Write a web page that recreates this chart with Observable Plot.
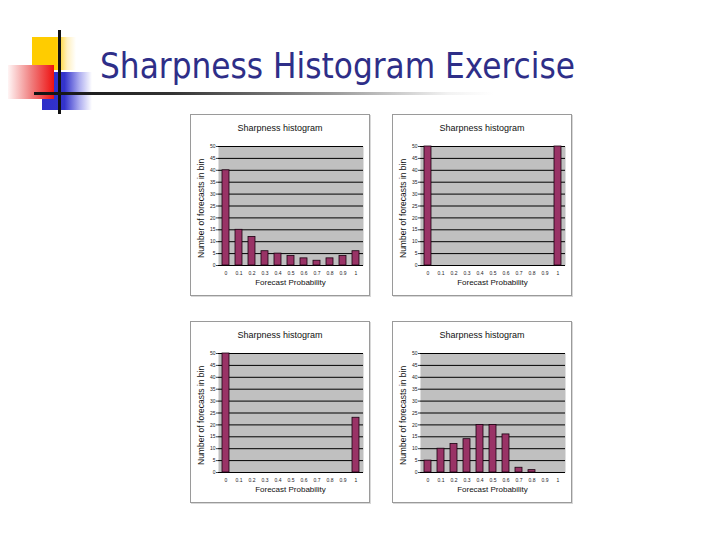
<!DOCTYPE html>
<html><head><meta charset="utf-8">
<script src="https://cdn.jsdelivr.net/npm/d3@7"></script>
<script src="https://cdn.jsdelivr.net/npm/@observablehq/plot@0.6"></script>
<style>
html,body{margin:0;padding:0;background:#fff;}
#page{position:relative;width:720px;height:540px;overflow:hidden;font-family:"Liberation Sans",Arial,sans-serif;}
.abs{position:absolute;}
.box{position:absolute;width:178px;height:180px;border:1px solid #9a9a9a;box-shadow:1px 1px 0 #d8d8d8;background:#fff;}
.ptitle{position:absolute;top:8px;left:0;width:178px;text-align:center;font-size:9px;color:#111;}
.xlab{position:absolute;font-size:8px;color:#111;text-align:center;width:150px;}
.ylab{position:absolute;font-size:8.5px;color:#111;white-space:nowrap;transform:rotate(-90deg);transform-origin:left top;}
.box svg{position:absolute;left:0;top:0;}
</style></head>
<body><div id="page"></div>
<script>
const probs = ["0","0.1","0.2","0.3","0.4","0.5","0.6","0.7","0.8","0.9","1"];
const yTicks = [0,5,10,15,20,25,30,35,40,45,50];
const counts1 = [40,15,12,6,5,4,3,2,3,4,6];
const counts2 = [50,0,0,0,0,0,0,0,0,0,50];
const counts3 = [50,0,0,0,0,0,0,0,0,0,23];
const counts4 = [5,10,12,14,20,20,16,2,1,0,0];
const chartTitle = "Sharpness histogram";
const xTitle = "Forecast Probability";
const yTitle = "Number of forecasts in bin";
const slideTitle = "Sharpness Histogram Exercise";

const page = document.getElementById("page");

// decorative slide header
page.insertAdjacentHTML("beforeend", `
<div class="abs" style="left:32px;top:37px;width:44px;height:33px;background:linear-gradient(to right,#ffcc00 0%,#ffcc00 55%,rgba(255,230,150,0.6) 80%,rgba(255,255,255,0) 100%)"></div>
<div class="abs" style="left:42px;top:72px;width:50px;height:38px;background:linear-gradient(to right,#2d2dc8 0%,#3434cc 45%,rgba(120,120,230,0.6) 75%,rgba(255,255,255,0) 100%)"></div>
<div class="abs" style="left:8px;top:65px;width:46px;height:34px;background:linear-gradient(to right,rgba(255,230,230,0.4) 0%,#f08080 50%,#ee1111 100%)"></div>
<div class="abs" style="left:58px;top:30px;width:3px;height:84px;background:#111"></div>
<div class="abs" style="left:34px;top:92px;width:460px;height:3px;background:linear-gradient(to right,#111 0%,#333 30%,#999 65%,rgba(230,230,230,0.5) 90%,rgba(255,255,255,0) 100%)"></div>
<svg class="abs" style="left:0;top:40px" width="720" height="50"><text x="100" y="38" font-family="DejaVu Sans Condensed, DejaVu Sans, sans-serif" font-size="35" fill="#2e2e88" textLength="475" lengthAdjust="spacingAndGlyphs">${slideTitle}</text></svg>
`);

const panels = [
  {left:190, top:114, counts:counts1},
  {left:392, top:114, counts:counts2},
  {left:190, top:321, counts:counts3},
  {left:392, top:321, counts:counts4}
];

const W = 178, H = 180, mL = 27, mT = 31, mR = 6, mB = 30;

for (const p of panels) {
  const box = document.createElement("div");
  box.className = "box";
  box.style.left = p.left + "px";
  box.style.top = p.top + "px";
  page.appendChild(box);
  const data = probs.map((k,i) => ({prob:k, count:p.counts[i]}));
  const chart = Plot.plot({
    width: W, height: H,
    marginLeft: mL, marginTop: mT, marginRight: mR, marginBottom: mB,
    style: {background:"transparent", fontSize:"5px", fontFamily:"Liberation Sans, Arial, sans-serif", color:"#222"},
    x: {type:"band", domain: probs, paddingInner:0.5, paddingOuter:0.22, label:null},
    y: {domain:[0,50], label:null},
    marks: [
      Plot.frame({fill:"#c0c0c0", stroke:"none"}),
      Plot.ruleY(yTicks, {stroke:"#000", strokeWidth:1}),
      Plot.barY(data, {x:"prob", y:"count", fill:"#993366", stroke:"#1a0010", strokeWidth:0.8}),
      Plot.axisX({tickSize:0, tickPadding:6}),
      Plot.axisY(yTicks, {tickSize:2, tickPadding:1, stroke:"#444"})
    ]
  });
  box.appendChild(chart);
  box.insertAdjacentHTML("beforeend",
    `<div class="ptitle">${chartTitle}</div>
     <div class="xlab" style="left:${mL + (W-mL-mR)/2 - 75}px;top:${H - 17}px">${xTitle}</div>
     <div class="ylab" style="left:5px;top:${mT + (H-mT-mB)/2 + 52}px">${yTitle}</div>`);
}
</script></body></html>
